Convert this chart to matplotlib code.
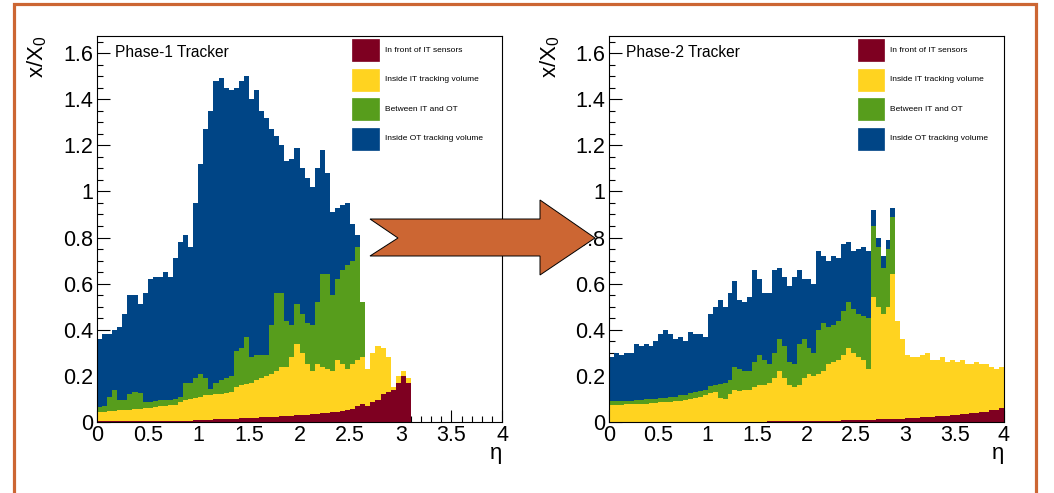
import numpy as np
import matplotlib
matplotlib.use("Agg")
import matplotlib.pyplot as plt
from matplotlib.patches import Polygon, Rectangle
from matplotlib.ticker import MultipleLocator, FuncFormatter

plt.rcParams['font.family'] = ['Liberation Sans', 'DejaVu Sans']
plt.rcParams['mathtext.fontset'] = 'custom'
plt.rcParams['mathtext.rm'] = 'Liberation Sans'
plt.rcParams['mathtext.it'] = 'Liberation Sans:italic'

# eta bins of width 0.05 from 0 to 4
bin_width = 0.05
edges = np.arange(0, 4 + bin_width / 2, bin_width)

labels = ['In front of IT sensors', 'Inside IT tracking volume',
          'Between IT and OT', 'Inside OT tracking volume']
colors = ['#7E0021', '#FFD320', '#579D1C', '#004586']

# stacked levels (x/X0 up to and including each category), Phase-1
p1_front = [0.004, 0.004, 0.004, 0.004, 0.004, 0.004, 0.004, 0.004, 0.004, 0.004,
            0.004, 0.004, 0.005, 0.005, 0.005, 0.005, 0.005, 0.006, 0.006, 0.007,
            0.008, 0.009, 0.010, 0.011, 0.012, 0.013, 0.014, 0.015, 0.016, 0.017,
            0.018, 0.019, 0.020, 0.021, 0.022, 0.023, 0.024, 0.025, 0.027, 0.029,
            0.030, 0.032, 0.034, 0.036, 0.038, 0.040, 0.042, 0.045, 0.048, 0.050,
            0.055, 0.070, 0.080, 0.070, 0.085, 0.095, 0.120, 0.130, 0.140, 0.170,
            0.200, 0.170]
p1_inside_it = [0.045, 0.045, 0.047, 0.048, 0.050, 0.050, 0.052, 0.055, 0.058, 0.060,
                0.062, 0.065, 0.068, 0.070, 0.072, 0.075, 0.085, 0.095, 0.100, 0.105,
                0.110, 0.115, 0.115, 0.120, 0.120, 0.125, 0.130, 0.150, 0.160, 0.165,
                0.170, 0.180, 0.190, 0.200, 0.210, 0.220, 0.240, 0.240, 0.280, 0.340,
                0.300, 0.250, 0.220, 0.250, 0.240, 0.230, 0.220, 0.270, 0.250, 0.230,
                0.250, 0.270, 0.280, 0.230, 0.300, 0.330, 0.320, 0.280, 0.150, 0.200,
                0.220, 0.190]
p1_between = [0.065, 0.070, 0.110, 0.140, 0.095, 0.095, 0.120, 0.130, 0.125, 0.085,
              0.085, 0.090, 0.095, 0.095, 0.095, 0.100, 0.110, 0.170, 0.170, 0.190,
              0.210, 0.190, 0.145, 0.170, 0.180, 0.190, 0.200, 0.310, 0.320, 0.370,
              0.280, 0.290, 0.290, 0.290, 0.420, 0.560, 0.560, 0.440, 0.420, 0.510,
              0.470, 0.430, 0.420, 0.520, 0.640, 0.640, 0.550, 0.620, 0.660, 0.680,
              0.700, 0.760, 0.520]
p1_inside_ot = [0.36, 0.38, 0.38, 0.40, 0.41, 0.47, 0.55, 0.55, 0.51, 0.56,
                0.62, 0.63, 0.63, 0.65, 0.63, 0.71, 0.78, 0.81, 0.76, 0.95,
                1.12, 1.27, 1.35, 1.48, 1.49, 1.45, 1.44, 1.45, 1.48, 1.50,
                1.40, 1.44, 1.35, 1.32, 1.27, 1.24, 1.20, 1.13, 1.14, 1.19,
                1.10, 1.06, 1.02, 1.10, 1.18, 1.08, 0.91, 0.93, 0.94, 0.95,
                0.86, 0.81]

# Phase-2
p2_front = [0.001, 0.001, 0.001, 0.001, 0.001, 0.001, 0.001, 0.001, 0.001, 0.001,
            0.001, 0.001, 0.001, 0.001, 0.001, 0.001, 0.001, 0.001, 0.001, 0.001,
            0.001, 0.001, 0.001, 0.001, 0.001, 0.002, 0.002, 0.002, 0.002, 0.002,
            0.002, 0.002, 0.003, 0.003, 0.003, 0.003, 0.003, 0.004, 0.004, 0.004,
            0.004, 0.005, 0.005, 0.005, 0.006, 0.006, 0.006, 0.007, 0.007, 0.008,
            0.008, 0.009, 0.009, 0.010, 0.011, 0.011, 0.012, 0.013, 0.014, 0.015,
            0.016, 0.017, 0.018, 0.020, 0.021, 0.022, 0.024, 0.025, 0.027, 0.029,
            0.031, 0.033, 0.035, 0.037, 0.040, 0.042, 0.045, 0.050, 0.054, 0.060]
p2_inside_it = [0.075, 0.075, 0.075, 0.076, 0.077, 0.078, 0.080, 0.080, 0.082, 0.083,
                0.085, 0.086, 0.088, 0.090, 0.092, 0.094, 0.100, 0.105, 0.110, 0.115,
                0.125, 0.130, 0.105, 0.100, 0.120, 0.140, 0.135, 0.140, 0.140, 0.150,
                0.160, 0.160, 0.170, 0.190, 0.220, 0.190, 0.160, 0.150, 0.160, 0.190,
                0.210, 0.200, 0.210, 0.220, 0.250, 0.260, 0.270, 0.290, 0.320, 0.300,
                0.280, 0.270, 0.230, 0.540, 0.500, 0.470, 0.500, 0.640, 0.440, 0.360,
                0.290, 0.280, 0.280, 0.290, 0.300, 0.270, 0.270, 0.280, 0.260, 0.270,
                0.260, 0.270, 0.250, 0.250, 0.260, 0.250, 0.250, 0.240, 0.230, 0.240]
p2_between = [0.090, 0.090, 0.090, 0.090, 0.092, 0.094, 0.097, 0.098, 0.100, 0.100,
              0.103, 0.105, 0.107, 0.110, 0.115, 0.118, 0.125, 0.130, 0.135, 0.140,
              0.155, 0.160, 0.165, 0.170, 0.180, 0.240, 0.230, 0.220, 0.220, 0.260,
              0.290, 0.270, 0.250, 0.300, 0.360, 0.330, 0.260, 0.250, 0.340, 0.360,
              0.320, 0.300, 0.400, 0.430, 0.410, 0.420, 0.440, 0.480, 0.520, 0.490,
              0.470, 0.460, 0.450, 0.850, 0.760, 0.670, 0.750, 0.890]
p2_inside_ot = [0.28, 0.30, 0.29, 0.30, 0.30, 0.34, 0.33, 0.34, 0.33, 0.35,
                0.38, 0.40, 0.38, 0.36, 0.37, 0.35, 0.39, 0.38, 0.38, 0.37,
                0.47, 0.50, 0.53, 0.50, 0.56, 0.61, 0.53, 0.52, 0.54, 0.66,
                0.62, 0.56, 0.56, 0.66, 0.67, 0.63, 0.59, 0.63, 0.66, 0.62,
                0.62, 0.60, 0.74, 0.72, 0.70, 0.72, 0.71, 0.77, 0.78, 0.74,
                0.75, 0.76, 0.74, 0.92, 0.80, 0.72, 0.79, 0.93]


def fill_levels(levels, nbins):
    # a category that stops early contributes nothing beyond its last bin
    out = []
    below = np.zeros(nbins)
    for lv in levels:
        lv = np.asarray(lv, dtype=float)
        full = below.copy()
        full[:len(lv)] = lv
        out.append(full)
        below = full
    return out


def draw_stack(ax, levels, title):
    nb = len(edges) - 1
    tops = fill_levels(levels, nb)
    xs = np.repeat(edges, 2)[1:-1]
    lower = np.zeros(nb)
    for top, c in zip(tops, colors):
        ax.fill_between(xs, np.repeat(lower, 2), np.repeat(top, 2),
                        color=c, lw=0, zorder=2)
        lower = top

    ax.set_xlim(0, 4)
    ax.set_ylim(0, 1.674)
    ax.xaxis.set_major_locator(MultipleLocator(0.5))
    ax.xaxis.set_minor_locator(MultipleLocator(0.1))
    ax.yaxis.set_major_locator(MultipleLocator(0.2))
    ax.yaxis.set_minor_locator(MultipleLocator(0.05))
    fmt = FuncFormatter(lambda v, p: f'{v:g}')
    ax.xaxis.set_major_formatter(fmt)
    ax.yaxis.set_major_formatter(fmt)
    ax.tick_params(which='both', direction='in', top=False, right=False,
                   labelsize=15.5, width=0.8, color='black')
    ax.tick_params(which='major', length=9)
    ax.tick_params(which='minor', length=4.5)
    ax.tick_params(axis='x', pad=2)
    ax.tick_params(axis='y', pad=3)
    for s in ax.spines.values():
        s.set_linewidth(0.8)
        s.set_zorder(5)

    ax.set_ylabel(r'$\mathregular{x/X_0}$', fontsize=16, loc='top')
    ax.yaxis.set_label_coords(-0.118, 1.0)
    ax.set_xlabel('η', fontsize=16, loc='right')
    ax.xaxis.set_label_coords(1.0, -0.055)

    ax.text(0.044, 0.956, title, transform=ax.transAxes, fontsize=11.2,
            ha='left', va='center', zorder=6)

    # legend: filled boxes with small labels
    for i, (lab, c) in enumerate(zip(labels, colors)):
        ytop = 0.992 - i * 0.0767
        ax.add_patch(Rectangle((0.630, ytop - 0.057), 0.066, 0.057,
                               transform=ax.transAxes, facecolor=c,
                               edgecolor=c, lw=0.5, zorder=6))
        ax.text(0.711, ytop - 0.0285, lab, transform=ax.transAxes,
                fontsize=6, ha='left', va='center', zorder=6)


W, H = 1054, 493
fig = plt.figure(figsize=(W / 100, H / 100), dpi=100)

ax1 = fig.add_axes([97 / W, 1 - 422 / H, 405 / W, 386 / H])
ax2 = fig.add_axes([609 / W, 1 - 422 / H, 395 / W, 386 / H])

draw_stack(ax1, [p1_front, p1_inside_it, p1_between, p1_inside_ot], 'Phase-1 Tracker')
draw_stack(ax2, [p2_front, p2_inside_it, p2_between, p2_inside_ot], 'Phase-2 Tracker')

orange = '#CC6633'

# outer frame
fig.add_artist(Rectangle((14 / W, -0.1), (1036 - 14) / W, 1.1 - 4 / H,
                         transform=fig.transFigure, fill=False,
                         edgecolor=orange, lw=2.3))

# arrow from Phase-1 to Phase-2
arrow_px = [(370, 219), (540, 219), (540, 200), (595, 238), (540, 275),
            (540, 256), (370, 256), (398, 238)]
fig.add_artist(Polygon([(x / W, 1 - y / H) for x, y in arrow_px], closed=True,
                       transform=fig.transFigure, facecolor=orange,
                       edgecolor='black', lw=0.7, zorder=10))

fig.savefig('out.png', dpi=100)
